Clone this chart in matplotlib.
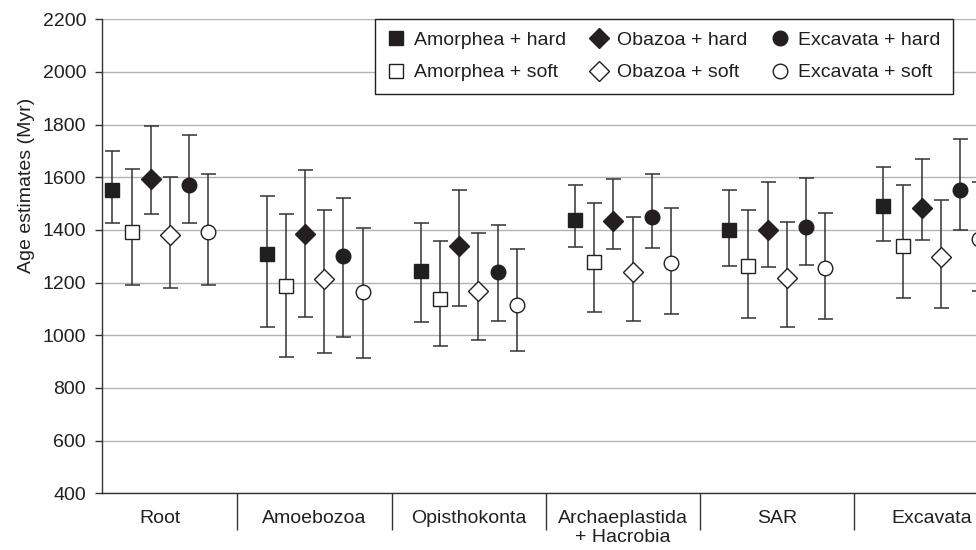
import matplotlib
matplotlib.use("Agg")
import matplotlib.pyplot as plt
import numpy as np

plt.rcParams['font.family'] = ['Liberation Sans', 'DejaVu Sans']

categories = ["Root", "Amoebozoa", "Opisthokonta", "Archaeplastida\n+ Hacrobia", "SAR", "Excavata"]
y_ticks = [400, 600, 800, 1000, 1200, 1400, 1600, 1800, 2000, 2200]

amorphea_hard_mean = [1552, 1310, 1245, 1439, 1401, 1492]
amorphea_hard_low = [1428, 1032, 1050, 1335, 1264, 1357]
amorphea_hard_high = [1698, 1528, 1427, 1569, 1550, 1638]

amorphea_soft_mean = [1393, 1187, 1136, 1280, 1262, 1340]
amorphea_soft_low = [1190, 917, 958, 1088, 1066, 1142]
amorphea_soft_high = [1632, 1460, 1359, 1502, 1477, 1571]

obazoa_hard_mean = [1594, 1383, 1338, 1433, 1398, 1485]
obazoa_hard_low = [1462, 1070, 1110, 1326, 1261, 1361]
obazoa_hard_high = [1796, 1626, 1550, 1594, 1584, 1670]

obazoa_soft_mean = [1380, 1215, 1168, 1242, 1219, 1297]
obazoa_soft_low = [1179, 933, 981, 1056, 1033, 1104]
obazoa_soft_high = [1603, 1474, 1388, 1448, 1429, 1515]

excavata_hard_mean = [1570, 1300, 1239, 1449, 1412, 1553]
excavata_hard_low = [1428, 992, 1054, 1333, 1267, 1399]
excavata_hard_high = [1762, 1521, 1420, 1612, 1597, 1744]

excavata_soft_mean = [1393, 1164, 1114, 1273, 1254, 1366]
excavata_soft_low = [1192, 912, 941, 1082, 1063, 1168]
excavata_soft_high = [1613, 1407, 1327, 1483, 1463, 1584]

series = [
    ("Amorphea + hard", amorphea_hard_mean, amorphea_hard_low, amorphea_hard_high, "s", True),
    ("Amorphea + soft", amorphea_soft_mean, amorphea_soft_low, amorphea_soft_high, "s", False),
    ("Obazoa + hard", obazoa_hard_mean, obazoa_hard_low, obazoa_hard_high, "D", True),
    ("Obazoa + soft", obazoa_soft_mean, obazoa_soft_low, obazoa_soft_high, "D", False),
    ("Excavata + hard", excavata_hard_mean, excavata_hard_low, excavata_hard_high, "o", True),
    ("Excavata + soft", excavata_soft_mean, excavata_soft_low, excavata_soft_high, "o", False),
]

dark = "#231f20"
FS = 14
W, H = 976, 550
fig = plt.figure(figsize=(W / 100, H / 100), dpi=100)
left_px, right_px, top_px, bot_px = 101.7, 990.0, 19.3, 493.3
ax = fig.add_axes([left_px / W, 1 - bot_px / H, (right_px - left_px) / W, (bot_px - top_px) / H])

step = 0.1245
msizes = {"s": 10.5, "D": 10.0, "o": 10.5}
handles = []
x_base = np.arange(len(categories))
for j, (label, mean, low, high, mk, filled) in enumerate(series):
    x = x_base + (j - 2.5) * step
    mean = np.array(mean, dtype=float)
    yerr = np.vstack([mean - np.array(low), np.array(high) - mean])
    ax.errorbar(x, mean, yerr=yerr, fmt="none", ecolor="#333333", elinewidth=1.1,
                capsize=5.4, capthick=1.1, zorder=3)
    h, = ax.plot(x, mean, linestyle="none", marker=mk, markersize=msizes[mk],
                 markerfacecolor=dark if filled else "white", markeredgecolor=dark,
                 markeredgewidth=1.0, zorder=4, label=label)
    handles.append(h)

ax.set_xlim(-0.38, 5.38)
ax.set_ylim(400, 2200)
ax.set_yticks(y_ticks)
ax.set_yticklabels([str(t) for t in y_ticks], fontsize=FS, color=dark)
ax.yaxis.grid(True, color="#b3b3b3", linewidth=1.0, zorder=0)
ax.set_axisbelow(True)

ax.set_xticks(x_base)
ax.set_xticklabels(categories, fontsize=FS, color=dark, linespacing=1.15)
ax.set_xticks(np.arange(len(categories) - 1) + 0.5, minor=True)
ax.tick_params(axis="x", which="major", length=0, pad=12)
ax.tick_params(axis="x", which="minor", length=26.6, width=1.0, color="#333333", direction="out")
ax.tick_params(axis="y", which="major", length=4.8, width=1.0, color="#333333", pad=6.5)

for s in ["top", "right"]:
    ax.spines[s].set_visible(False)
for s in ["left", "bottom"]:
    ax.spines[s].set_color("#333333")
    ax.spines[s].set_linewidth(1.0)

ax.set_ylabel("Age estimates (Myr)", fontsize=FS, color=dark)
ax.yaxis.set_label_coords(-0.075, 0.65)

leg = fig.legend(handles=handles, loc="upper right", bbox_to_anchor=(953 / W, 1 - 19 / H),
                 ncol=3, fontsize=FS, frameon=True, fancybox=False, borderaxespad=0,
                 handlelength=0.9, handletextpad=0.5, columnspacing=1.2, labelspacing=0.75,
                 borderpad=0.65, markerscale=1.0)
leg.get_frame().set_edgecolor(dark)
leg.get_frame().set_linewidth(1.0)
leg.get_frame().set_alpha(1)
for t in leg.get_texts():
    t.set_color(dark)

fig.savefig("out.png", dpi=100)
